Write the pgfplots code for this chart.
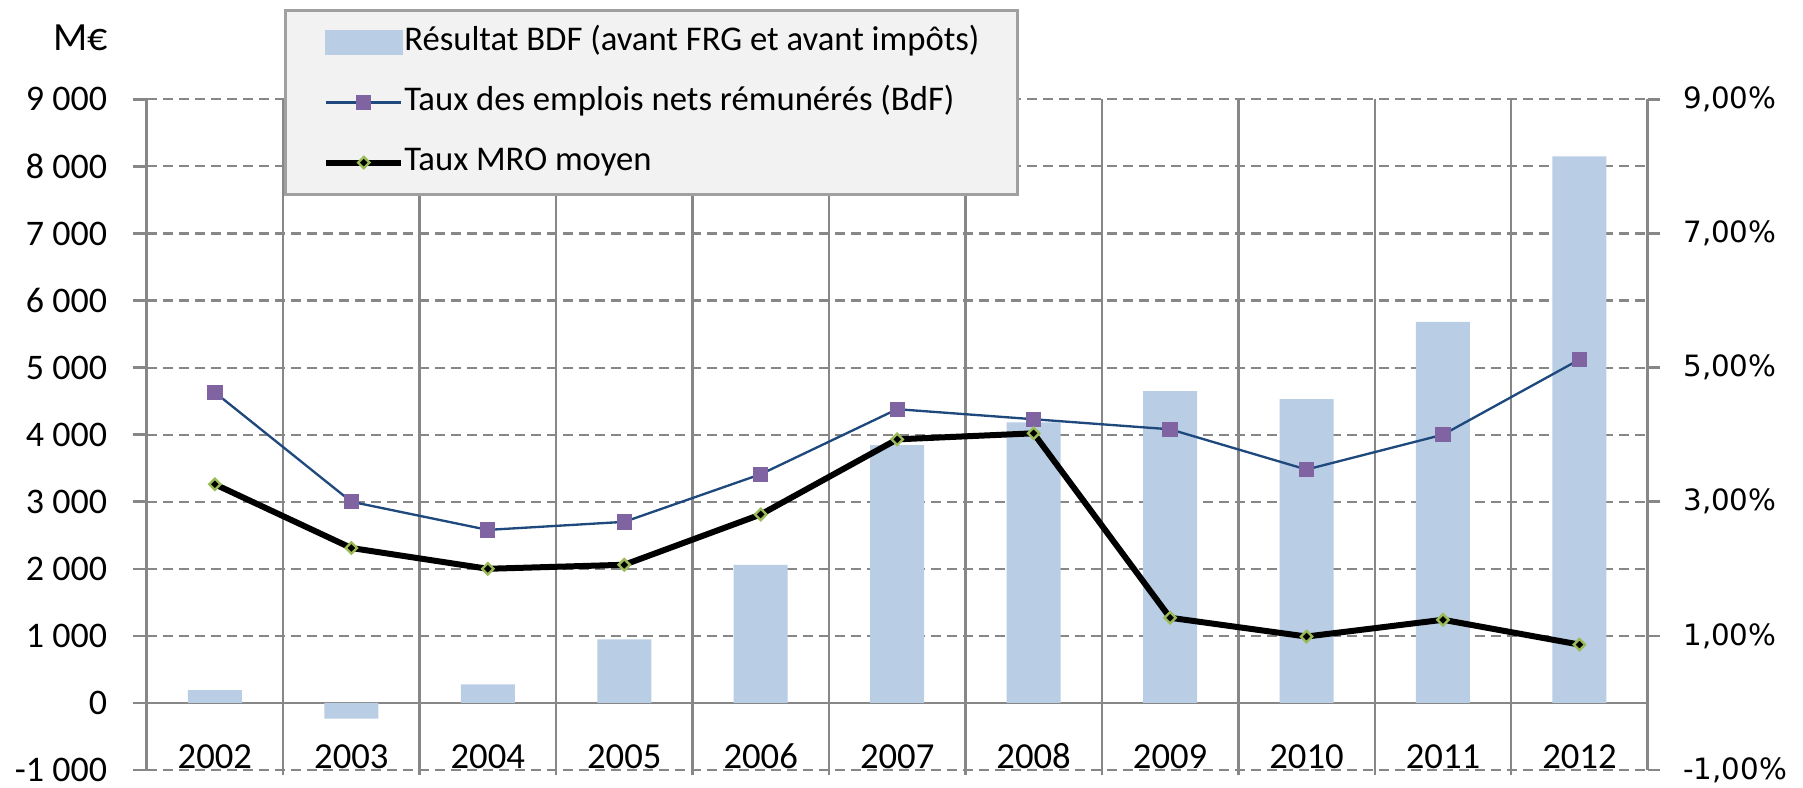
\documentclass[border=0pt]{standalone}
\usepackage{pgfplots}
\pgfplotsset{compat=1.18}
\usepackage{fontspec}
\setmainfont{Carlito}
\newfontfamily\dejavu{DejaVu Sans}
\definecolor{barblue}{HTML}{B9CDE5}
\definecolor{lineblue}{HTML}{1F497D}
\definecolor{mpurple}{HTML}{8064A2}
\definecolor{mgreen}{HTML}{9BBB59}
\definecolor{gridgray}{HTML}{878787}
\definecolor{legfill}{HTML}{F2F2F2}
\definecolor{legdraw}{HTML}{A0A0A0}
\begin{document}
\begin{tikzpicture}
\begin{axis}[
  name=ax1,
  scale only axis, width=450.3pt, height=201.2pt,
  xmin=-0.5, xmax=10.5, ymin=-1000, ymax=9000,
  axis x line*=bottom, axis y line*=left,
  x axis line style={draw=none},
  y axis line style={draw=gridgray, line width=0.75pt},
  xtick={0,...,10},
  xticklabels={2002,2003,2004,2005,2006,2007,2008,2009,2010,2011,2012},
  major x tick style={draw=none},
  xticklabel style={font=\fontsize{11}{13}\selectfont, anchor=base, yshift=4.6pt},
  minor xtick={0.5,1.5,...,9.5},
  xminorgrids=true,
  minor x grid style={solid, draw=gridgray, line width=0.75pt},
  minor x tick style={draw=gridgray, line width=0.75pt},
  minor tick length=1.6pt,
  tick align=outside,
  ytick={-1000,1000,2000,3000,4000,5000,6000,7000,8000,9000},
  yticklabels={-1 000,1 000,2 000,3 000,4 000,5 000,6 000,7 000,8 000,9 000},
  extra y ticks={0},
  extra y tick labels={0},
  extra y tick style={major grid style={solid, draw=gridgray, line width=0.75pt}},
  ymajorgrids=true,
  major grid style={draw=gridgray, line width=0.65pt, dash pattern=on 3.2pt off 1.6pt},
  major y tick style={draw=gridgray, line width=0.75pt},
  major tick length=4.2pt,
  yticklabel style={font=\fontsize{10.8}{13}\selectfont, anchor=east, inner xsep=0pt, xshift=-7.5pt},
  ytick pos=left,
]
\addplot[ybar, bar width=16.2pt, bar shift=0pt, fill=barblue, draw=none] coordinates {
(0,190) (1,-235) (2,277) (3,946) (4,2058) (5,3844) (6,4182) (7,4651) (8,4531) (9,5680) (10,8151)};
\end{axis}
\begin{axis}[
  scale only axis, width=450.3pt, height=201.2pt,
  xmin=-0.5, xmax=10.5, ymin=-1, ymax=9,
  axis x line=none, axis y line*=right,
  y axis line style={draw=gridgray, line width=0.75pt},
  ytick={-1,1,3,5,7,9},
  yticklabels={{-1,00\%},{1,00\%},{3,00\%},{5,00\%},{7,00\%},{9,00\%}},
  tick align=outside,
  major tick length=3.6pt,
  major y tick style={draw=gridgray, line width=0.75pt},
  yticklabel style={font=\dejavu\fontsize{8.8}{10}\selectfont, anchor=west, inner xsep=0pt, xshift=6.9pt},
  ytick pos=right,
  clip=false,
  legend image code/.code={\draw[mark repeat=2,mark phase=2,#1] plot coordinates {(0pt,0pt)(11.25pt,0pt)(22.5pt,0pt)};},
  legend cell align=left,
  legend style={
    at={(0.0915,1.1342)}, anchor=north west,
    draw=legdraw, fill=legfill, line width=0.75pt,
    font=\fontsize{10.4}{12}\selectfont,
    inner xsep=11.4pt, inner ysep=4.6pt,
    row sep=8pt, column sep=0pt,
    nodes={inner xsep=0pt, inner ysep=0pt, text height=7.5pt, text depth=2.5pt},
    /tikz/every even column/.append style={column sep=2.4pt},
  },
]
\addlegendimage{legend image code/.code={\fill[barblue] (0pt,-3.35pt) rectangle (22.5pt,3.35pt);}}
\addlegendentry{Résultat BDF (avant FRG et avant impôts)}
\addplot[lineblue, line width=0.7pt, mark=square*, mark size=2.15pt, mark options={fill=mpurple, draw=mpurple, line width=0pt}] coordinates {
(0,4.63) (1,3.00) (2,2.58) (3,2.70) (4,3.41) (5,4.38) (6,4.23) (7,4.08) (8,3.48) (9,4.00) (10,5.12)};
\addlegendentry{Taux des emplois nets rémunérés (BdF)}
\addplot[black, line width=1.8pt, mark=square*, mark size=1.2pt, mark options={fill=black, draw=mgreen, line width=0.7pt, rotate=45}] coordinates {
(0,3.26) (1,2.31) (2,2.00) (3,2.06) (4,2.81) (5,3.93) (6,4.02) (7,1.27) (8,0.99) (9,1.24) (10,0.87)};
\addlegendentry{Taux MRO moyen}
\end{axis}
\node[font=\fontsize{12}{14}\selectfont] at ([xshift=-19.7pt,yshift=18.5pt]ax1.north west) {M€};
\pgfresetboundingbox
\path[use as bounding box] ([xshift=-44pt,yshift=-5.1pt]ax1.south west) rectangle ++(540.9pt,236.1pt);
\end{tikzpicture}
\end{document}
